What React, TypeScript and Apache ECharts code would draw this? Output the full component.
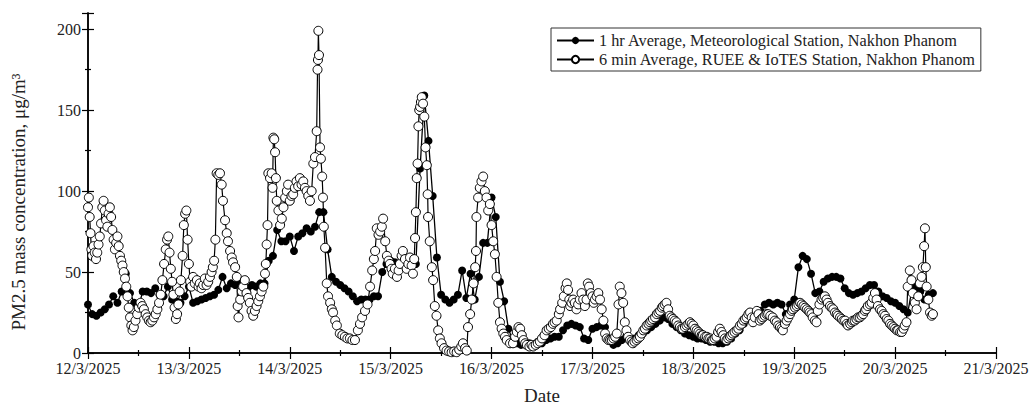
import React, { useEffect, useRef } from "react";
import * as echarts from "echarts";

// X tick labels (one per day, 24 h apart, starting 12/3/2025 00:00)
const dateLabels = [
  "12/3/2025", "13/3/2025", "14/3/2025", "15/3/2025", "16/3/2025",
  "17/3/2025", "18/3/2025", "19/3/2025", "20/3/2025", "21/3/2025",
];
const yTickLabels = ["0", "50", "100", "150", "200"];

const seriesNames = [
  "1 hr Average, Meteorological Station, Nakhon Phanom",
  "6 min Average, RUEE & IoTES Station, Nakhon Phanom",
];
const xTitle = "Date";
const yTitle = "PM2.5 mass concentration, μg/m³";

// 1 hr average (index = hours since 12/3/2025 00:00)
const hourlyValues = [
  30, 24, 23, 25, 27, 30, 35, 31, 38, 49,
  37, 31, 28, 38, 38, 37, 40, 36, 35, 41,
  33, 32, 31, 35, 41, 31, 32, 33, 34, 35,
  36, 39, 47, 40, 43, 42, 44, 45, 40, 42,
  41, 43, 43, 57, 60, 76, 69, 69, 72, 63,
  72, 74, 77, 75, 78, 87, 87, 64, 47, 44,
  42, 40, 38, 35, 32, 33, 33, 33, 35, 35,
  50, 55, 57, 56, 55, 55, 55, 55, 55, 114,
  159, 131, 97, 59, 36, 33, 31, 33, 36, 51,
  34, 49, 33, 47, 68, 68, 96, 84, 44, 32,
  15, 8, 6, 5, 5, 6, 5, 7, 6, 8,
  9, 10, 10, 14, 17, 18, 17, 16, 9, 8,
  15, 16, 17, 16, 8, 5, 6, 8, 10, 8,
  9, 11, 12, 14, 16, 18, 20, 22, 21, 18,
  16, 14, 12, 11, 10, 9, 9, 8, 7, 7,
  6, 6, 7, 9, 12, 14, 18, 21, 23, 25,
  26, 30, 31, 30, 31, 30, 24, 30, 33, 53,
  60, 58, 49, 37, 38, 44, 46, 47, 47, 46,
  40, 37, 36, 37, 38, 40, 42, 42, 38, 35,
  34, 32, 31, 29, 27, 25, 39, 41, 38, 33,
  36, 37,
];

// 6 min average samples: [hours since 12/3/2025 00:00, value]
const sixMinSamples: [number, number][] = [
  [0, 90], [0.2, 96], [0.4, 84], [0.6, 74], [0.8, 64], [1.0, 60], [1.3, 66], [1.6, 62], [1.9, 58], [2.2, 62],
  [2.5, 67], [2.8, 72], [3.1, 80], [3.4, 90], [3.7, 94], [4.0, 88], [4.3, 82], [4.6, 78], [4.9, 86], [5.2, 90],
  [5.5, 84], [5.8, 76], [6.1, 70], [6.4, 64], [6.7, 68], [7.0, 72], [7.3, 66], [7.6, 60], [7.9, 57], [8.2, 54],
  [8.5, 50], [8.8, 46], [9.1, 41], [9.4, 35], [9.7, 28], [10.0, 22], [10.3, 17], [10.6, 14], [10.9, 16], [11.3, 20],
  [11.7, 24], [12.1, 28], [12.5, 31], [12.9, 29], [13.3, 27], [13.7, 24], [14.1, 22], [14.5, 20], [14.9, 19], [15.3, 20],
  [15.7, 22], [16.1, 24], [16.5, 27], [16.9, 31], [17.3, 36], [17.7, 45], [18.1, 55], [18.5, 64], [18.8, 70], [19.1, 72],
  [19.4, 62], [19.7, 52], [20.0, 44], [20.3, 36], [20.6, 28], [20.9, 21], [21.2, 24], [21.5, 30], [21.8, 38], [22.1, 45],
  [22.5, 60], [22.8, 79], [23.1, 86], [23.4, 88], [23.7, 70], [24.0, 55], [24.3, 44], [24.6, 41], [25.0, 47], [25.4, 43],
  [25.9, 45], [26.3, 41], [26.6, 43], [27.0, 40], [27.4, 42], [27.8, 46], [28.2, 42], [28.6, 44], [29.0, 47], [29.4, 50],
  [29.7, 53], [30.0, 57], [30.3, 70], [30.6, 111], [31.0, 110], [31.4, 111], [31.8, 104], [32.1, 94], [32.6, 82], [33.0, 74],
  [33.3, 69], [33.8, 63], [34.2, 59], [34.5, 56], [35.0, 53], [35.4, 47], [35.6, 29], [35.8, 22], [36.2, 33], [36.6, 38],
  [36.9, 41], [37.3, 45], [37.7, 37], [38.1, 34], [38.5, 31], [38.9, 26], [39.3, 23], [39.7, 26], [40.1, 29], [40.5, 32],
  [40.9, 35], [41.3, 38], [41.7, 41], [42.1, 49], [42.3, 55], [42.5, 67], [42.7, 79], [42.9, 111], [43.3, 108], [43.7, 111],
  [43.9, 102], [44.1, 133], [44.3, 132], [44.5, 124], [44.7, 108], [44.9, 94], [45.3, 88], [45.7, 79], [46.1, 83], [46.5, 90],
  [46.9, 96], [47.3, 100], [47.6, 104], [48.0, 94], [48.4, 97], [48.8, 98], [49.2, 102], [49.6, 106], [50.0, 103], [50.4, 108],
  [50.8, 104], [51.2, 106], [51.6, 102], [52.0, 100], [52.4, 97], [52.8, 94], [53.2, 100], [53.6, 117], [54.0, 121], [54.4, 137],
  [54.6, 175], [54.7, 181], [54.8, 199], [54.95, 184], [55.2, 127], [55.4, 120], [55.7, 109], [55.9, 96], [56.1, 78], [56.4, 65],
  [56.8, 43], [57.1, 35], [57.6, 31], [58.0, 27], [58.3, 25], [58.8, 20], [59.2, 17], [59.9, 12], [60.5, 11], [61.1, 10],
  [61.7, 9], [62.3, 9], [62.9, 8], [63.5, 8], [64.2, 14], [64.7, 18], [65.2, 22], [65.9, 26], [66.5, 30], [67.1, 41],
  [67.6, 51], [68.0, 58], [68.3, 63], [68.7, 77], [69.1, 73], [69.5, 75], [69.9, 78], [70.2, 83], [70.7, 69], [71.1, 60],
  [71.5, 57], [71.8, 55], [72.2, 52], [72.5, 49], [73.0, 52], [73.5, 47], [73.9, 51], [74.2, 55], [74.6, 60], [74.9, 63],
  [75.4, 58], [75.8, 52], [76.2, 55], [76.6, 59], [77.0, 54], [77.3, 49], [77.6, 58], [77.8, 71], [78.0, 87], [78.2, 108],
  [78.4, 117], [78.6, 140], [78.8, 150], [79.0, 152], [79.2, 155], [79.4, 158], [79.7, 154], [80.0, 146], [80.3, 127], [80.6, 116],
  [80.8, 98], [80.9, 84], [81.3, 69], [81.8, 53], [82.1, 45], [82.5, 29], [82.9, 23], [83.3, 14], [83.7, 9], [84.1, 6],
  [84.7, 3], [85.3, 1.5], [85.9, 1], [86.5, 0.5], [87.1, 1], [87.7, 0.5], [88.3, 2], [88.8, 4], [89.2, 6], [89.7, 3],
  [90.1, 1.5], [90.4, 16], [90.9, 24], [91.3, 33], [91.7, 43], [92.1, 53], [92.3, 63], [92.4, 84], [92.8, 96], [93.2, 102],
  [93.6, 106], [94.0, 109], [94.4, 100], [94.8, 96], [95.2, 88], [95.6, 92], [96.0, 79], [96.4, 69], [96.8, 61], [97.2, 47],
  [97.6, 31], [98.0, 19], [98.4, 15], [98.8, 12], [99.2, 10], [99.6, 8], [100.4, 6], [101.1, 6], [101.6, 10], [102.0, 13],
  [102.4, 16], [102.8, 15], [103.2, 11], [103.6, 8], [104.0, 6], [104.4, 5], [105.0, 4], [105.5, 5], [105.9, 4], [106.5, 5],
  [107.0, 6], [107.5, 7], [108.0, 9], [108.6, 11], [109.1, 14], [109.6, 15], [110.1, 16], [110.6, 18], [111.0, 19], [111.5, 20],
  [112.0, 24], [112.3, 27], [112.8, 31], [113.2, 35], [113.6, 40], [113.9, 43], [114.2, 39], [114.5, 33], [114.7, 29], [115.0, 31],
  [115.4, 33], [115.8, 31], [116.2, 27], [116.6, 30], [117.0, 33], [117.4, 37], [117.8, 33], [118.2, 29], [118.6, 33], [118.9, 43],
  [119.2, 41], [119.6, 37], [120.0, 35], [120.3, 31], [120.6, 33], [121.0, 35], [121.4, 37], [121.8, 33], [122.2, 27], [122.6, 20],
  [123.0, 12], [123.4, 9], [123.8, 8], [124.2, 8], [124.6, 8], [125.0, 9], [125.4, 10], [125.8, 12], [126.2, 30], [126.5, 41],
  [126.9, 37], [127.3, 31], [127.7, 19], [128.1, 14], [128.5, 10], [128.9, 8], [129.3, 7], [129.6, 6], [130.0, 7], [130.5, 8],
  [130.9, 9], [131.3, 10], [131.7, 12], [132.1, 14], [132.5, 15], [132.9, 17], [133.3, 18], [133.7, 19], [134.0, 20], [134.4, 21],
  [134.9, 22], [135.3, 24], [135.7, 25], [136.1, 26], [136.5, 28], [136.8, 29], [137.2, 30], [137.6, 31], [138.0, 27], [138.4, 23],
  [138.8, 22], [139.2, 21], [139.6, 20], [140.0, 19], [140.4, 17], [140.8, 16], [141.2, 15], [141.5, 15], [142.0, 16], [142.4, 17],
  [142.8, 18], [143.2, 19], [143.6, 18], [144.0, 17], [144.4, 15], [144.8, 14], [145.2, 13], [145.6, 12], [146.0, 11], [146.3, 11],
  [146.8, 10], [147.2, 10], [147.6, 9], [148.0, 9], [148.4, 8], [148.7, 8], [149.1, 9], [149.5, 10], [149.9, 13], [150.3, 15],
  [150.7, 13], [151.1, 11], [151.5, 9], [151.9, 8], [152.3, 9], [152.7, 10], [153.0, 11], [153.4, 12], [153.8, 13], [154.3, 14],
  [154.7, 15], [155.1, 17], [155.5, 18], [155.9, 20], [156.3, 21], [156.7, 22], [157.1, 24], [157.5, 25], [157.9, 22], [158.2, 19],
  [158.6, 22], [159.1, 26], [159.5, 24], [159.8, 20], [160.2, 21], [160.6, 22], [161.0, 23], [161.4, 24], [161.8, 24], [162.3, 23],
  [162.9, 22], [163.4, 20], [163.8, 19], [164.2, 17], [164.6, 16], [165.0, 15], [165.3, 14], [165.8, 18], [166.2, 20], [166.6, 22],
  [167.0, 24], [167.4, 26], [167.7, 27], [168.2, 28], [168.6, 29], [169.0, 30], [169.4, 31], [169.8, 30], [170.2, 29], [170.6, 28],
  [171.0, 27], [171.4, 26], [171.7, 25], [172.1, 24], [172.4, 22], [172.9, 20], [173.3, 19], [173.6, 26], [174.0, 30], [174.5, 33],
  [174.9, 34], [175.3, 35], [175.7, 33], [176.0, 31], [176.5, 29], [176.9, 28], [177.3, 27], [177.7, 25], [178.1, 24], [178.4, 23],
  [178.9, 22], [179.3, 21], [179.7, 20], [180.1, 20], [180.5, 18], [180.8, 17], [181.3, 18], [181.7, 19], [182.0, 20], [182.4, 20],
  [182.8, 21], [183.2, 22], [183.6, 22], [184.0, 23], [184.4, 24], [184.8, 26], [185.1, 27], [185.5, 29], [186.0, 30], [186.4, 31],
  [186.8, 34], [187.2, 37], [187.6, 33], [187.9, 29], [188.4, 27], [188.8, 26], [189.2, 24], [189.6, 23], [190.0, 21], [190.4, 20],
  [190.8, 18], [191.2, 17], [191.6, 16], [192.0, 15], [192.4, 14], [192.7, 14], [193.2, 13], [193.6, 13], [194.0, 15], [194.3, 17],
  [194.7, 19], [195.0, 41], [195.5, 51], [195.9, 45], [196.2, 37], [196.7, 31], [197.1, 27], [197.5, 35], [197.9, 43], [198.3, 47],
  [198.6, 53], [198.9, 66], [199.1, 77], [199.3, 53], [199.5, 41], [199.9, 33], [200.3, 25], [200.7, 23], [201.0, 24],
];

const FONT = '"Liberation Serif", "Times New Roman", serif';
const TEXT = "#222";

export default function App() {
  const ref = useRef<HTMLDivElement>(null);

  useEffect(() => {
    if (!ref.current) return;
    const chart = echarts.init(ref.current, null, { renderer: "svg" });

    const axisLine = { show: true, lineStyle: { color: "#000", width: 1.5 } };
    const axisTick = { show: true, inside: true, length: 6, lineStyle: { color: "#000", width: 1.2 } };
    const minorTick = { show: true, splitNumber: 2, length: 3, lineStyle: { color: "#000", width: 1.2 } };

    chart.setOption({
      animation: false,
      backgroundColor: "#fff",
      textStyle: { fontFamily: FONT },
      grid: { left: 88, right: 34, top: 13, bottom: 52, containLabel: false, outerBoundsMode: "none" },
      legend: {
        show: true,
        orient: "vertical",
        left: 551,
        top: 28,
        padding: [4, 5, 3, 5],
        itemGap: 2,
        itemWidth: 37,
        itemHeight: 9,
        borderColor: "#333",
        borderWidth: 1,
        borderRadius: 0,
        backgroundColor: "#fff",
        textStyle: { fontFamily: FONT, fontSize: 16.3, color: TEXT, lineHeight: 17 },
        data: seriesNames,
      },
      xAxis: [
        {
          type: "value",
          position: "bottom",
          min: 0,
          max: 216,
          interval: 24,
          axisLine,
          axisTick,
          minorTick,
          splitLine: { show: false },
          axisLabel: {
            margin: 7,
            fontSize: 16,
            fontFamily: FONT,
            color: TEXT,
            formatter: (v: number) => dateLabels[Math.round(v / 24)] ?? "",
          },
          name: xTitle,
          nameLocation: "middle",
          nameGap: 33,
          nameTextStyle: { fontFamily: FONT, fontSize: 19, lineHeight: 18, color: TEXT },
        },
        {
          type: "value",
          position: "top",
          min: 0,
          max: 216,
          interval: 24,
          axisLine,
          axisTick,
          minorTick,
          splitLine: { show: false },
          axisLabel: { show: false },
        },
      ],
      yAxis: [
        {
          type: "value",
          position: "left",
          min: 0,
          max: 210,
          interval: 50,
          axisLine,
          axisTick,
          minorTick,
          splitLine: { show: false },
          axisLabel: {
            margin: 7,
            fontSize: 16,
            fontFamily: FONT,
            color: TEXT,
            formatter: (v: number) => (v % 50 === 0 ? yTickLabels[v / 50] ?? "" : ""),
          },
        },
        {
          type: "value",
          position: "right",
          min: 0,
          max: 210,
          interval: 50,
          axisLine,
          axisTick,
          minorTick,
          splitLine: { show: false },
          axisLabel: { show: false },
        },
      ],
      graphic: [
        {
          type: "text",
          x: 18,
          y: 202,
          rotation: Math.PI / 2,
          style: {
            text: yTitle,
            fontFamily: FONT,
            fontSize: 19,
            fill: TEXT,
            align: "center",
            verticalAlign: "middle",
          },
        },
      ],
      series: [
        {
          name: seriesNames[0],
          type: "line",
          xAxisIndex: 0,
          yAxisIndex: 0,
          data: hourlyValues.map((v, i) => [i, v]),
          symbol: "circle",
          symbolSize: 8,
          itemStyle: { color: "#000" },
          lineStyle: { color: "#000", width: 1.3 },
          z: 3,
        },
        {
          name: seriesNames[1],
          type: "line",
          xAxisIndex: 0,
          yAxisIndex: 0,
          data: sixMinSamples,
          symbol: "circle",
          symbolSize: 9,
          itemStyle: { color: "#fff", borderColor: "#000", borderWidth: 1 },
          lineStyle: { color: "#000", width: 1.2 },
          z: 4,
        },
      ],
    });

    return () => chart.dispose();
  }, []);

  return (
    <div
      ref={ref}
      style={{ position: "fixed", left: 0, top: 0, width: 1030, height: 405, background: "#fff" }}
    />
  );
}
